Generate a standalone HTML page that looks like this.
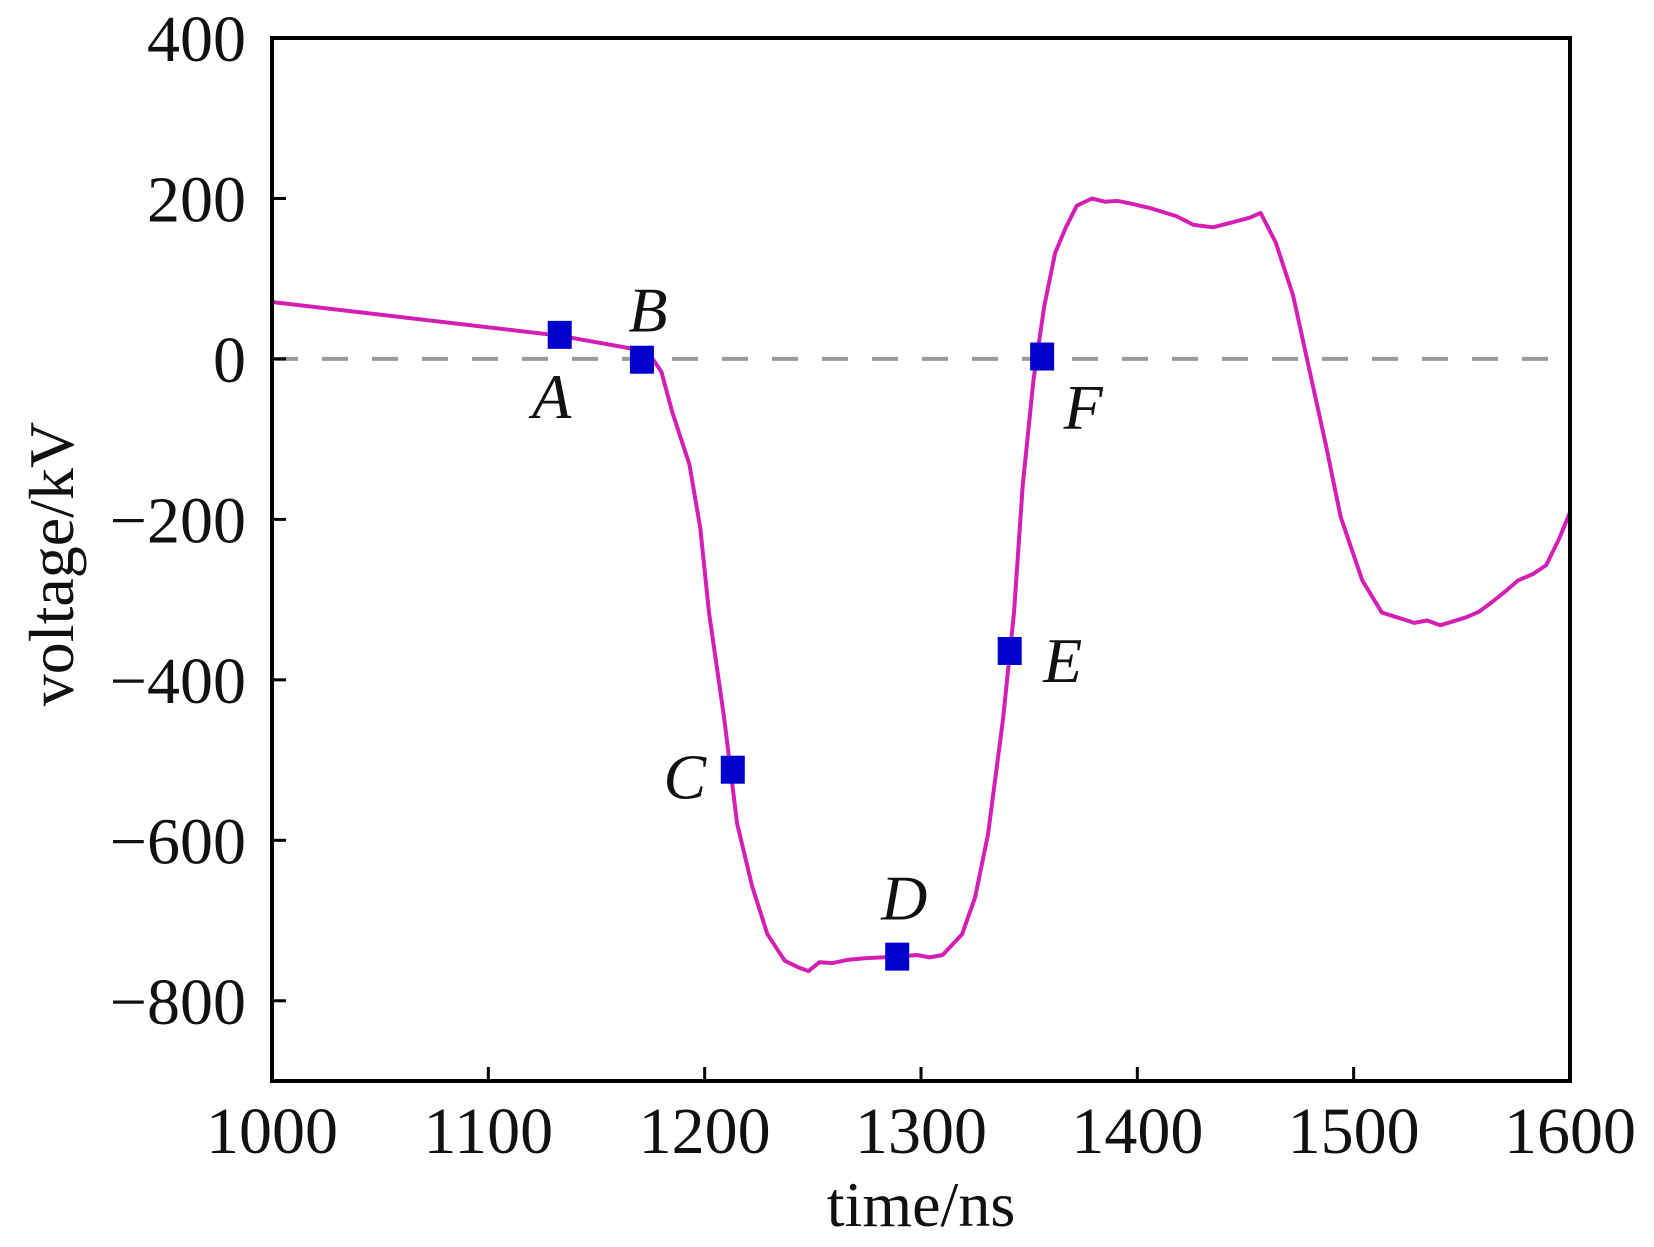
<!DOCTYPE html>
<html><head><meta charset="utf-8"><style>
html,body{margin:0;padding:0;background:#fff;}
svg{display:block;}
text{font-family:"Liberation Serif",serif;fill:#111;}
</style></head><body>
<svg id="chart" width="1654" height="1247" viewBox="0 0 1654 1247" xmlns="http://www.w3.org/2000/svg"></svg>
<script>
const xTicks=[1000,1100,1200,1300,1400,1500,1600];
const yTicks=[400,200,0,-200,-400,-600,-800];
const traceT=[1000,1133,1166,1176,1180,1185,1193,1198,1202,1209,1215,1222,1229,1237,1243,1248,1253,1259,1266,1274,1282,1290,1298,1304,1310,1319,1325,1331,1338,1343,1347,1352,1357,1362,1367,1372,1379,1385,1391,1398,1406,1412,1418,1426,1435,1445,1452,1457,1464,1472,1479,1487,1494,1504,1513,1520,1528,1534,1540,1546,1552,1558,1564,1570,1576,1583,1589,1595,1600];
const traceV=[71,29,13,0,-16,-66,-132,-211,-316,-447,-579,-658,-717,-750,-758,-763,-752,-753,-749,-747,-746,-745,-743,-746,-743,-717,-671,-592,-447,-316,-158,-26,66,132,164,191,200,196,197,193,188,183,178,167,164,171,176,182,145,79,-7,-105,-197,-276,-316,-322,-329,-326,-332,-327,-322,-315,-303,-290,-276,-268,-257,-224,-191];
const markerT=[1133,1171,1213,1289,1341,1356];
const markerV=[30,-1,-512,-745,-364,3];
const markerLabels=["A","B","C","D","E","F"];
const labelDx=[-8,6,-48,7,53,41];
const labelDy=[83,-28,29,-37,31,72];

const X0=272,X1=1570,Y0=38,Y1=1081;
const xs=t=>X0+(t-1000)/600*(X1-X0);
const ys=v=>Y0+(400-v)/1300*(Y1-Y0);
const NS="http://www.w3.org/2000/svg";
const svg=document.getElementById('chart');
function mk(tag,attrs,parent){const e=document.createElementNS(NS,tag);for(const k in attrs)e.setAttribute(k,attrs[k]);(parent||svg).appendChild(e);return e;}

const zl=mk('line',{x1:X0,x2:X1,y1:ys(0),y2:ys(0),stroke:'#999','stroke-width':4,'stroke-dasharray':'26 24'});



let d='';
traceT.forEach((t,i)=>{d+=(i?'L':'M')+xs(t).toFixed(1)+','+ys(traceV[i]).toFixed(1);});
const tr=mk('path',{d:d,fill:'none',stroke:'#d41fb5','stroke-width':4,'stroke-linejoin':'round'});



markerT.forEach((t,i)=>{
  const r=mk('rect',{x:xs(t)-12,y:ys(markerV[i])-14,width:24,height:28,fill:'#0000cc'});
  
  
  const tx=mk('text',{x:xs(t)+labelDx[i],y:ys(markerV[i])+labelDy[i],'font-size':64,'font-style':'italic','text-anchor':'middle'});
  tx.textContent=markerLabels[i];
  
  
});

const fr=mk('rect',{x:X0,y:Y0,width:X1-X0,height:Y1-Y0,fill:'none',stroke:'#000','stroke-width':4});



xTicks.forEach(t=>{
  const tk=mk('line',{x1:xs(t),x2:xs(t),y1:Y1,y2:Y1-14,stroke:'#000','stroke-width':3});
  
  
  const lb=mk('text',{x:xs(t),y:1153,'font-size':66,'text-anchor':'middle'});
  lb.textContent=t;
  
  
});
yTicks.forEach(v=>{
  const tk=mk('line',{x1:X0,x2:X0+14,y1:ys(v),y2:ys(v),stroke:'#000','stroke-width':3});
  
  
  const lb=mk('text',{x:246,y:ys(v)+23,'font-size':66,'text-anchor':'end'});
  lb.textContent=v<0?'\u2212'+(-v):String(v);
  
  
});

const xt=mk('text',{x:921,y:1226,'font-size':64,'text-anchor':'middle'});
xt.textContent='time/ns';


const yt=mk('text',{x:0,y:0,'font-size':64,'text-anchor':'middle',transform:'translate(73,564) rotate(-90)'});
yt.textContent='voltage/kV';


</script>
</body></html>
